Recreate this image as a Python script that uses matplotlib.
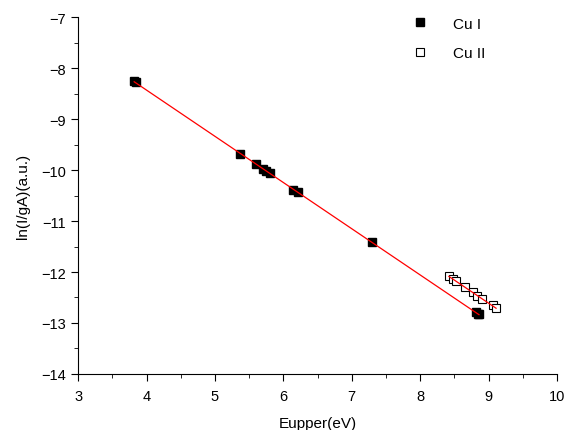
import numpy as np
import matplotlib
matplotlib.use("Agg")
import matplotlib.pyplot as plt
from matplotlib.ticker import MultipleLocator

plt.rcParams['font.family'] = ['Liberation Sans', 'DejaVu Sans']

cu1_x = [3.82, 3.84, 5.37, 5.60, 5.70, 5.74, 5.80, 6.14, 6.21, 7.29, 8.82, 8.84, 8.86]
cu1_y = [-8.25, -8.28, -9.69, -9.88, -9.98, -10.01, -10.06, -10.39, -10.44, -11.41, -12.79, -12.82, -12.83]
cu2_x = [8.42, 8.48, 8.53, 8.65, 8.77, 8.83, 8.91, 9.06, 9.11]
cu2_y = [-12.08, -12.14, -12.18, -12.30, -12.40, -12.48, -12.53, -12.65, -12.71]

fig = plt.figure(figsize=(5.66, 4.31), dpi=100)
ax = fig.add_axes([0.138, 0.130, 0.846, 0.828])

for xs, ys in [(cu1_x, cu1_y), (cu2_x, cu2_y)]:
    p = np.polyfit(xs, ys, 1)
    xx = np.array([min(xs), max(xs)])
    ax.plot(xx, np.polyval(p, xx), color='red', lw=0.9, zorder=3)

ax.plot(cu1_x, cu1_y, 's', color='black', ms=5.5, label='Cu I', zorder=2)
ax.plot(cu2_x, cu2_y, 's', mfc='white', mec='black', mew=0.8, ms=5.5, label='Cu II', zorder=2)

ax.set_xlim(3, 10)
ax.set_ylim(-14, -7)
ax.xaxis.set_major_locator(MultipleLocator(1))
ax.xaxis.set_minor_locator(MultipleLocator(0.5))
ax.yaxis.set_major_locator(MultipleLocator(1))
ax.yaxis.set_minor_locator(MultipleLocator(0.5))
ax.spines['top'].set_visible(False)
ax.spines['right'].set_visible(False)
ax.tick_params(which='major', direction='out', length=5, labelsize=10.5)
ax.tick_params(axis='x', which='major', pad=6)
ax.tick_params(which='minor', direction='out', length=3)
ax.set_xlabel('Eupper(eV)', fontsize=11, labelpad=9)
ax.set_ylabel('ln(I/gA)(a.u.)', fontsize=11, labelpad=8)

ax.legend(loc='upper right', frameon=False, fontsize=11, bbox_to_anchor=(0.88, 1.04),
          handletextpad=1.2, labelspacing=1.0)

fig.savefig('out.png', dpi=100)
